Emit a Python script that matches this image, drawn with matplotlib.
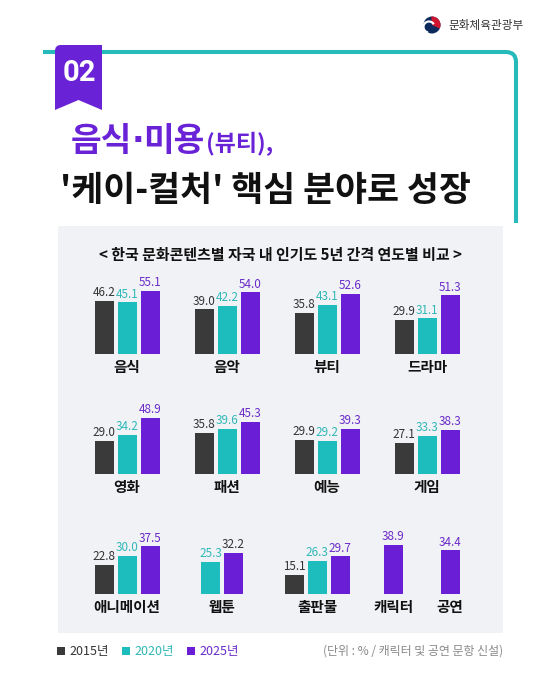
import matplotlib
matplotlib.use("Agg")
import matplotlib.pyplot as plt
from matplotlib.patches import Rectangle, Wedge, Arc, Circle, PathPatch
from matplotlib.path import Path

plt.rcParams['font.family'] = ['Noto Sans CJK KR', 'DejaVu Sans']

# ---------------- data ----------------
categories = ['음식', '음악', '뷰티', '드라마',
              '영화', '패션', '예능', '게임',
              '애니메이션', '웹툰', '출판물', '캐릭터', '공연']
values_2015 = [46.2, 39.0, 35.8, 29.9, 29.0, 35.8, 29.9, 27.1, 22.8, None, 15.1, None, None]
values_2020 = [45.1, 42.2, 43.1, 31.1, 34.2, 39.6, 29.2, 33.3, 30.0, 25.3, 26.3, None, None]
values_2025 = [55.1, 54.0, 52.6, 51.3, 48.9, 45.3, 39.3, 38.3, 37.5, 32.2, 29.7, 38.9, 34.4]
series_names = ['2015년', '2020년', '2025년']

title_line1_parts = ['음식', '·', '미용', '(뷰티),']
title_line2 = "'케이-컬처' 핵심 분야로 성장"
subtitle = '< 한국 문화콘텐츠별 자국 내 인기도 5년 간격 연도별 비교 >'
ministry = '문화체육관광부'
badge = '02'
note = '(단위 : % / 캐릭터 및 공연 문항 신설)'

# ---------------- style / layout ----------------
W, H = 560, 700
bar_colors = ['#3a3a3a', '#1dbdbd', '#6a1fd6']
label_colors = ['#333333', '#2fb8b8', '#6a2bc8']
label_override = {('웹툰', 2): '#333333'}
teal = '#26baba'
purple = '#6a22d6'

row_of = [0, 0, 0, 0, 1, 1, 1, 1, 2, 2, 2, 2, 2]
centers = [127, 227, 327, 427, 127, 227, 327, 427, 127, 222, 317, 393, 450]
row_baseline = [354, 474, 594]
row_scale = [1.145, 1.145, 1.27]   # px per %
bar_w = 19
bar_step = 23
row_h = 90

fig = plt.figure(figsize=(W / 100, H / 100), dpi=100)
fig.patch.set_facecolor('white')

ax0 = fig.add_axes([0, 0, 1, 1])
ax0.set_xlim(0, W)
ax0.set_ylim(H, 0)
ax0.axis('off')

# gray panel
ax0.add_patch(Rectangle((58, 226), 503 - 58, 633 - 226, facecolor='#f1f2f6', edgecolor='none', zorder=0))

# teal frame line
verts = [(43, 52), (506, 52), (516, 52), (516, 62), (516, 223)]
codes = [Path.MOVETO, Path.LINETO, Path.CURVE3, Path.CURVE3, Path.LINETO]
ax0.add_patch(PathPatch(Path(verts, codes), facecolor='none', edgecolor=teal,
                        linewidth=2.9, capstyle='butt', zorder=1))

# ribbon badge
rib = [(55, 51), (55, 47), (57, 45), (61, 45), (102, 45), (102, 110), (78.5, 100), (55, 110), (55, 51)]
rib_codes = [Path.MOVETO, Path.CURVE4, Path.CURVE4, Path.CURVE4, Path.LINETO, Path.LINETO,
             Path.LINETO, Path.LINETO, Path.CLOSEPOLY]
ax0.add_patch(PathPatch(Path(rib, rib_codes), facecolor=purple, edgecolor='none', zorder=2))
ax0.text(79, 73, badge, color='white', fontsize=21, fontweight='bold',
         family=['Roboto', 'DejaVu Sans'], ha='center', va='center', zorder=3)

# ministry logo
ax0.add_patch(Circle((432, 25), 8.5, facecolor='#0d2a5c', edgecolor='none', zorder=2))
ax0.add_patch(Wedge((432, 25), 8.5, 265, 25, facecolor='#d0152f', edgecolor='none', zorder=3))
ax0.add_patch(Arc((429, 27), 11, 11, theta1=100, theta2=330, color='white', linewidth=1.6, zorder=4))
ax0.text(448, 25, ministry, fontsize=8.4, color='#333333', ha='left', va='center')

# titles
renderer = fig.canvas.get_renderer()
part_sizes = [24, 24, 24, 16.5]
part_fams = [None, ['DejaVu Sans'], None, None]
part_gap = [0, -1, -1, 2]
x = 71
for txt, fs, fam, gap in zip(title_line1_parts, part_sizes, part_fams, part_gap):
    kw = dict(fontsize=fs, fontweight='bold', color=purple, ha='left', va='baseline')
    if fam:
        kw['family'] = fam
    t = ax0.text(x + gap, 151, txt, **kw)
    bb = t.get_window_extent(renderer)
    x = ax0.transData.inverted().transform((bb.x1, bb.y0))[0]

ax0.text(60, 201, title_line2, fontsize=25, fontweight='bold', color='#111111',
         ha='left', va='baseline')

ax0.text(280, 255, subtitle, fontsize=10.8, fontweight='bold', color='#111111',
         ha='center', va='center')

# legend
leg_x = [57, 122, 187]
for i, name in enumerate(series_names):
    ax0.add_patch(Rectangle((leg_x[i], 647), 8, 8, facecolor=bar_colors[i], edgecolor='none'))
    ax0.text(leg_x[i] + 12.5, 651, name, fontsize=9, color=label_colors[i],
             ha='left', va='center')
ax0.text(503, 651, note, fontsize=8.6, color='#8a8a8a', ha='right', va='center')

# ---------------- bars ----------------
series = [values_2015, values_2020, values_2025]
axes = []
for r in range(3):
    ax = fig.add_axes([0, (H - row_baseline[r]) / H, 1, row_h / H])
    ax.set_xlim(0, W)
    ax.set_ylim(0, row_h / row_scale[r])
    ax.axis('off')
    ax.patch.set_alpha(0)
    axes.append(ax)

px2pt = 72 / 100
for k, cat in enumerate(categories):
    ax = axes[row_of[k]]
    present = [s for s in range(3) if series[s][k] is not None]
    n = len(present)
    for j, s in enumerate(present):
        v = series[s][k]
        xc = centers[k] + (j - (n - 1) / 2) * bar_step
        ax.bar(xc, v, width=bar_w, color=bar_colors[s], edgecolor='none')
        col = label_override.get((cat, s), label_colors[s])
        ax.annotate(f'{v:.1f}', xy=(xc, v), xytext=(0, 1.2), textcoords='offset points',
                    ha='center', va='bottom', fontsize=8.4, fontweight='medium', color=col,
                    annotation_clip=False)
    ax.annotate(cat, xy=(centers[k], 0), xytext=(0, -13 * px2pt), textcoords='offset points',
                ha='center', va='center', fontsize=10.5, fontweight='bold', color='#111111',
                annotation_clip=False)

fig.savefig('out.png', dpi=100, facecolor='white')
